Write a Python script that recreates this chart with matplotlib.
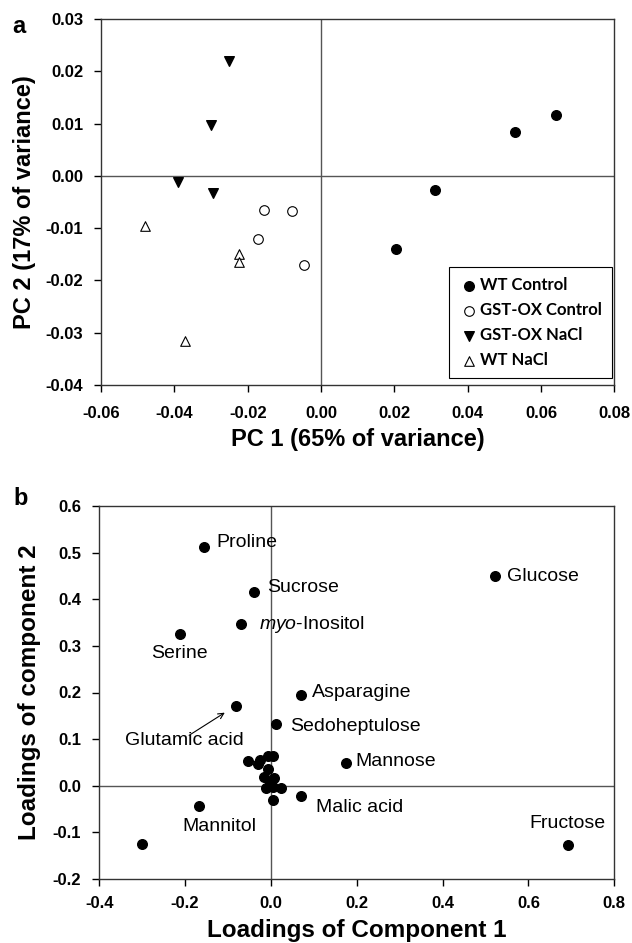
import matplotlib
matplotlib.use('Agg')
import matplotlib.pyplot as plt
from matplotlib.ticker import FormatStrFormatter

plt.rcParams['font.family'] = ['Liberation Sans', 'DejaVu Sans']
plt.rcParams['mathtext.fontset'] = 'custom'
plt.rcParams['mathtext.it'] = 'Liberation Sans:italic'
plt.rcParams['mathtext.rm'] = 'Liberation Sans'

# panel a: PCA scores
wt_ctrl_x = [0.064, 0.053, 0.031, 0.0205]
wt_ctrl_y = [0.0117, 0.0083, -0.0027, -0.014]
gst_ctrl_x = [-0.0155, -0.008, -0.0172, -0.0047]
gst_ctrl_y = [-0.0065, -0.0067, -0.012, -0.017]
gst_nacl_x = [-0.025, -0.030, -0.039, -0.0295]
gst_nacl_y = [0.022, 0.0098, -0.0012, -0.0032]
wt_nacl_x = [-0.048, -0.0225, -0.0225, -0.037]
wt_nacl_y = [-0.0095, -0.015, -0.0165, -0.0315]

# panel b: loadings
load_x = [-0.155, -0.040, -0.069, -0.211, 0.522, 0.069, -0.082, 0.011, 0.174,
          0.071, -0.167, -0.300, 0.692,
          -0.054, -0.031, -0.007, 0.006, -0.007, -0.015, 0.008, -0.012, 0.005,
          0.024, 0.005, -0.002, -0.026]
load_y = [0.513, 0.416, 0.346, 0.326, 0.449, 0.194, 0.170, 0.133, 0.049,
          -0.022, -0.043, -0.124, -0.127,
          0.054, 0.047, 0.064, 0.064, 0.035, 0.019, 0.016, -0.004, -0.002,
          -0.004, -0.030, 0.006, 0.055]
label_names = ['Proline', 'Sucrose', '$\\it{myo}$-Inositol', 'Serine', 'Glucose',
               'Asparagine', 'Glutamic acid', 'Sedoheptulose', 'Mannose',
               'Malic acid', 'Mannitol', 'Fructose']
label_x = [-0.127, -0.010, -0.028, -0.280, 0.549, 0.096, -0.340, 0.044, 0.197,
           0.105, -0.207, 0.602]
label_y = [0.522, 0.425, 0.346, 0.284, 0.449, 0.201, 0.096, 0.127, 0.053,
           -0.047, -0.087, -0.081]

fig = plt.figure(figsize=(6.32, 9.43), dpi=100)
ax1 = fig.add_axes([0.160, 1 - 385 / 943, 0.812, (385 - 19) / 943])
ax2 = fig.add_axes([0.157, 1 - 879 / 943, 0.815, (879 - 506) / 943])

ms = 48
ax1.scatter(wt_ctrl_x, wt_ctrl_y, s=ms, marker='o', c='black', label='WT Control', zorder=3)
ax1.scatter(gst_ctrl_x, gst_ctrl_y, s=ms, marker='o', facecolors='white', edgecolors='black',
            linewidths=0.8, label='GST-OX Control', zorder=3)
ax1.scatter(gst_nacl_x, gst_nacl_y, s=ms, marker='v', c='black', label='GST-OX NaCl', zorder=3)
ax1.scatter(wt_nacl_x, wt_nacl_y, s=ms, marker='^', facecolors='white', edgecolors='black',
            linewidths=0.8, label='WT NaCl', zorder=3)
ax1.axhline(0, color='#555555', lw=1, zorder=1)
ax1.axvline(0, color='#555555', lw=1, zorder=1)
ax1.set_xlim(-0.06, 0.08)
ax1.set_ylim(-0.04, 0.03)
ax1.set_xticks([-0.06, -0.04, -0.02, 0.0, 0.02, 0.04, 0.06, 0.08])
ax1.set_yticks([-0.04, -0.03, -0.02, -0.01, 0.0, 0.01, 0.02, 0.03])
ax1.xaxis.set_major_formatter(FormatStrFormatter('%.2f'))
ax1.yaxis.set_major_formatter(FormatStrFormatter('%.2f'))
ax1.set_xlabel('PC 1 (65% of variance)', fontsize=17, fontweight='bold')
ax1.set_ylabel('PC 2 (17% of variance)', fontsize=17, fontweight='bold')
ax1.xaxis.set_label_coords(0.5, -0.117)
ax1.yaxis.set_label_coords(-0.127, 0.5)
leg = ax1.legend(loc='lower right', bbox_to_anchor=(0.996, 0.018), borderaxespad=0,
                 fancybox=False, edgecolor='black', framealpha=1, handletextpad=0.1,
                 handlelength=1.2, labelspacing=0.55, borderpad=0.6,
                 prop={'family': 'Lato', 'weight': 'bold', 'size': 12})
leg.get_frame().set_linewidth(0.8)
ax1.text(-0.160, 0.980, 'a', transform=ax1.transAxes, fontsize=17, fontweight='bold',
         ha='center', va='center')

ax2.scatter(load_x, load_y, s=ms, marker='o', c='black', zorder=3)
ax2.axhline(0, color='#555555', lw=1, zorder=1)
ax2.axvline(0, color='#555555', lw=1, zorder=1)
for name, tx, ty in zip(label_names, label_x, label_y):
    ax2.text(tx, ty, name, fontsize=14, ha='left', va='center')
ax2.annotate('', xy=(-0.102, 0.160), xytext=(-0.196, 0.105),
             arrowprops=dict(arrowstyle='->', lw=0.8, color='black'))
ax2.set_xlim(-0.4, 0.8)
ax2.set_ylim(-0.2, 0.6)
ax2.set_xticks([-0.4, -0.2, 0.0, 0.2, 0.4, 0.6, 0.8])
ax2.set_yticks([-0.2, -0.1, 0.0, 0.1, 0.2, 0.3, 0.4, 0.5, 0.6])
ax2.xaxis.set_major_formatter(FormatStrFormatter('%.1f'))
ax2.yaxis.set_major_formatter(FormatStrFormatter('%.1f'))
ax2.set_xlabel('Loadings of Component 1', fontsize=17.5, fontweight='bold')
ax2.set_ylabel('Loadings of component 2', fontsize=17.5, fontweight='bold')
ax2.xaxis.set_label_coords(0.5, -0.106)
ax2.yaxis.set_label_coords(-0.113, 0.5)
ax2.text(-0.153, 1.02, 'b', transform=ax2.transAxes, fontsize=17, fontweight='bold',
         ha='center', va='center')

for ax, xpad in ((ax1, 10), (ax2, 7)):
    ax.tick_params(direction='out', length=5, width=1, labelsize=12, pad=8)
    ax.tick_params(axis='x', pad=xpad)
    for lab in ax.get_xticklabels() + ax.get_yticklabels():
        lab.set_fontweight('bold')
    for sp in ax.spines.values():
        sp.set_linewidth(1)
        sp.set_color('#333333')

plt.savefig('out.png', dpi=100)
plt.close()
